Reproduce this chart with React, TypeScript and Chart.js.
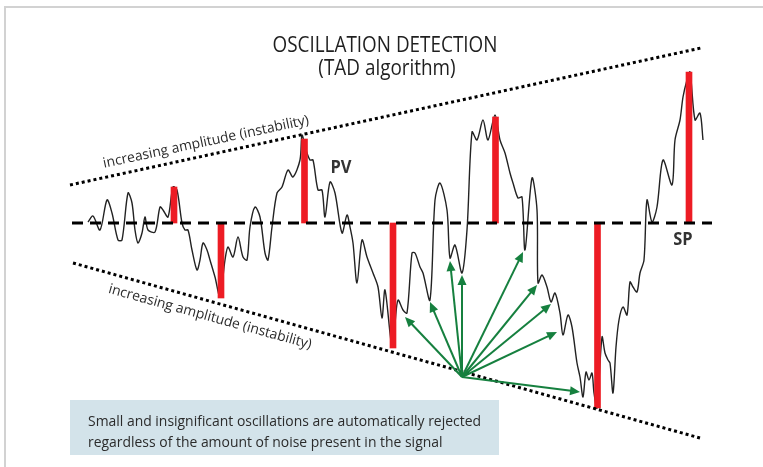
import React, { useEffect, useRef } from "react";
import { Chart, registerables } from "chart.js";

Chart.register(...registerables);

// ---- data (time steps and signal deviation from setpoint) ----
const timeSteps = [
  88, 93, 100, 107, 112, 118, 122, 128, 132, 135, 138, 142, 145, 148, 155, 160, 163, 168, 173, 177,
  182, 185, 188, 192, 197, 200, 203, 207, 210, 215, 220, 225, 228, 233, 238, 243, 247, 250, 255, 260,
  265, 268, 272, 277, 282, 288, 293, 300, 302, 306, 310, 313, 318, 322, 325, 330, 335, 342, 347, 350,
  353, 357, 362, 367, 373, 378, 382, 385, 392, 395, 398, 403, 407, 412, 415, 420, 423, 430, 435, 440,
  447, 450, 455, 462, 467, 472, 477, 483, 488, 495, 500, 505, 510, 513, 518, 522, 525, 532, 537, 538,
  542, 547, 551, 555, 560, 563, 568, 572, 577, 580, 583, 586, 589, 592, 594, 597, 602, 605, 608, 610,
  613, 616, 619, 623, 627, 630, 633, 637, 640, 644, 647, 652, 657, 663, 672, 675, 680, 683, 687, 690,
  695, 700, 703,
];
const signalValues = [
  1, 7, -7, 23, 10, -17, -17, 30, 20, -7, -20, -10, 6, -7, -9, 16, 13, 6, 36, 33,
  0, -7, -7, -27, -47, -37, -20, -27, -37, -54, -74, -37, -24, -34, -14, -34, -37, -4, 16, 6,
  -30, -37, -4, 30, 36, 53, 46, 63, 88, 73, 63, 63, 33, 33, 6, 41, 30, -10, 8, -4,
  -20, -60, -17, -34, -50, -64, -95, -67, -124, -100, -77, -87, -90, -30, -30, -44, -50, -77, 23, 40,
  13, -35, -22, -50, -7, 91, 83, 103, 83, 108, 83, 70, 50, 40, 25, 26, -27, 45, 13, -60,
  -52, -64, -79, -70, -90, -112, -92, -104, -140, -154, -174, -149, -157, -150, -170, -185, -114, -130, -137, -140,
  -170, -124, -97, -84, -92, -59, -64, -69, -50, -37, 23, 1, 16, 63, 38, 83, 103, 126, 143, 151,
  103, 110, 83,
];

const setpointValue = 0;
const setpointSpan = [72, 712];

// detected oscillations (TAD)
const detectedX = [174, 221, 304.5, 393, 495.5, 597.5, 689];
const detectedAmplitude = [36, -75, 84, -125, 106, -185, 151];

// amplitude envelopes
const upperEnvelopeX = [70, 701];
const upperEnvelopeY = [38, 175];
const lowerEnvelopeX = [73, 700];
const lowerEnvelopeY = [-40, -215];

// rejected small oscillations (arrows)
const rejectedOriginX = 462;
const rejectedOriginY = -154;
const rejectedPeakX = [405, 430, 450, 462, 523, 537, 551, 557, 580];
const rejectedPeakY = [-94, -79, -38, -52, -29, -62, -81, -109, -169];

// texts
const titleLines = ["OSCILLATION DETECTION", "(TAD algorithm)"];
const envelopeLabel = "increasing amplitude (instability)";
const pvLabel = "PV";
const spLabel = "SP";
const noteLines = [
  "Small and insignificant oscillations are automatically rejected",
  "regardless of the amount of noise present in the signal",
];

const FONT = '"Open Sans", "DejaVu Sans", sans-serif';

function drawScaled(
  ctx: CanvasRenderingContext2D,
  text: string,
  x: number,
  y: number,
  font: string,
  color: string,
  sx: number,
  angle = 0,
  align: CanvasTextAlign = "center",
  baseline: CanvasTextBaseline = "alphabetic"
) {
  ctx.save();
  ctx.font = font;
  ctx.fillStyle = color;
  ctx.textAlign = align;
  ctx.textBaseline = baseline;
  ctx.translate(x, y);
  ctx.rotate(angle);
  ctx.scale(sx, 1);
  ctx.fillText(text, 0, 0);
  ctx.restore();
}

function widthScale(ctx: CanvasRenderingContext2D, text: string, font: string, target: number) {
  ctx.save();
  ctx.font = font;
  const w = ctx.measureText(text).width;
  ctx.restore();
  return w > 0 ? target / w : 1;
}

const overlayPlugin = {
  id: "overlay",
  beforeDraw(chart: any) {
    const ctx: CanvasRenderingContext2D = chart.ctx;
    ctx.save();
    ctx.fillStyle = "#ffffff";
    ctx.fillRect(0, 0, chart.width, chart.height);
    ctx.strokeStyle = "#d2d2d2";
    ctx.lineWidth = 2;
    ctx.beginPath();
    ctx.moveTo(5, chart.height + 5);
    ctx.lineTo(5, 7);
    ctx.lineTo(chart.width + 5, 7);
    ctx.stroke();
    ctx.restore();
  },
  afterDatasetsDraw(chart: any) {
    const ctx: CanvasRenderingContext2D = chart.ctx;
    const xs = chart.scales.x;
    const ys = chart.scales.y;
    const ox = xs.getPixelForValue(rejectedOriginX);
    const oy = ys.getPixelForValue(rejectedOriginY);
    const green = "#16803f";
    ctx.save();
    ctx.strokeStyle = green;
    ctx.fillStyle = green;
    ctx.lineWidth = 2;
    rejectedPeakX.forEach((px, i) => {
      const tx = xs.getPixelForValue(px);
      const ty = ys.getPixelForValue(rejectedPeakY[i]);
      const dx = tx - ox;
      const dy = ty - oy;
      const len = Math.hypot(dx, dy);
      const ux = dx / len;
      const uy = dy / len;
      const head = 10;
      const half = 4.5;
      const bx = tx - ux * head;
      const by = ty - uy * head;
      ctx.beginPath();
      ctx.moveTo(ox, oy);
      ctx.lineTo(bx + ux * 1, by + uy * 1);
      ctx.stroke();
      ctx.beginPath();
      ctx.moveTo(tx, ty);
      ctx.lineTo(bx - uy * half, by + ux * half);
      ctx.lineTo(bx + uy * half, by - ux * half);
      ctx.closePath();
      ctx.fill();
    });
    ctx.restore();
  },
  afterDraw(chart: any) {
    const ctx: CanvasRenderingContext2D = chart.ctx;
    const dark = "#2b2b2b";

    // title
    const titleFont = `21px ${FONT}`;
    const ts = widthScale(ctx, titleLines[0], titleFont, 225);
    drawScaled(ctx, titleLines[0], 385, 52, titleFont, "#1f1f1f", ts);
    drawScaled(ctx, titleLines[1], 387, 75, titleFont, "#1f1f1f", ts);

    // PV / SP
    const boldFont = `bold 18px ${FONT}`;
    const bs = widthScale(ctx, pvLabel, boldFont, 21);
    drawScaled(ctx, pvLabel, 341, 173, boldFont, "#333333", bs);
    drawScaled(ctx, spLabel, 683, 245, boldFont, "#333333", bs);

    // envelope labels
    const labFont = `14px ${FONT}`;
    const ls = widthScale(ctx, envelopeLabel, labFont, 210);
    drawScaled(ctx, envelopeLabel, 206, 142, labFont, dark, ls, (-12 * Math.PI) / 180, "center", "middle");
    drawScaled(ctx, envelopeLabel, 210, 317, labFont, dark, ls, (15.5 * Math.PI) / 180, "center", "middle");

    // note box
    ctx.save();
    ctx.fillStyle = "#d3e3ea";
    ctx.fillRect(70, 400, 429, 55);
    ctx.restore();
    const noteFont = `15px ${FONT}`;
    const ns = widthScale(ctx, noteLines[0], noteFont, 393);
    drawScaled(ctx, noteLines[0], 88, 426, noteFont, dark, ns, 0, "left");
    drawScaled(ctx, noteLines[1], 88, 447, noteFont, dark, ns, 0, "left");
  },
};

export default function App() {
  const canvasRef = useRef<HTMLCanvasElement | null>(null);

  useEffect(() => {
    const canvas = canvasRef.current;
    if (!canvas) return;
    const chart = new Chart(canvas, {
      type: "line",
      data: {
        datasets: [
          {
            type: "line",
            label: "PV",
            data: timeSteps.map((t, i) => ({ x: t, y: signalValues[i] })),
            borderColor: "#222222",
            borderWidth: 1.4,
            pointRadius: 0,
            tension: 0.3,
            order: 5,
          } as any,
          {
            type: "bar",
            label: "Detected oscillations",
            data: detectedX.map((x, i) => ({ x, y: [setpointValue, detectedAmplitude[i]] })),
            backgroundColor: "#ed1c24",
            borderWidth: 0,
            barThickness: 6,
            order: 3,
          } as any,
          {
            type: "line",
            label: "SP",
            data: setpointSpan.map((x) => ({ x, y: setpointValue })),
            borderColor: "#000000",
            borderWidth: 3,
            borderDash: [11, 7],
            borderCapStyle: "butt",
            pointRadius: 0,
            order: 1,
          } as any,
          {
            type: "line",
            label: "Upper envelope",
            data: upperEnvelopeX.map((x, i) => ({ x, y: upperEnvelopeY[i] })),
            borderColor: "#000000",
            borderWidth: 3,
            borderDash: [3, 3],
            pointRadius: 0,
            order: 2,
          } as any,
          {
            type: "line",
            label: "Lower envelope",
            data: lowerEnvelopeX.map((x, i) => ({ x, y: lowerEnvelopeY[i] })),
            borderColor: "#000000",
            borderWidth: 3,
            borderDash: [3, 3],
            pointRadius: 0,
            order: 2,
          } as any,
        ],
      },
      options: {
        responsive: false,
        animation: false,
        events: [],
        layout: { padding: 0 },
        scales: {
          x: { type: "linear", min: 0, max: 763, display: false, offset: false },
          y: { type: "linear", min: -244, max: 223, display: false },
        },
        plugins: {
          legend: { display: false },
          tooltip: { enabled: false },
        },
      },
      plugins: [overlayPlugin],
    });
    return () => chart.destroy();
  }, []);

  return (
    <div style={{ position: "absolute", left: 0, top: 0, width: 763, height: 467, background: "#fff" }}>
      <canvas ref={canvasRef} width={763} height={467} style={{ display: "block" }} />
    </div>
  );
}
